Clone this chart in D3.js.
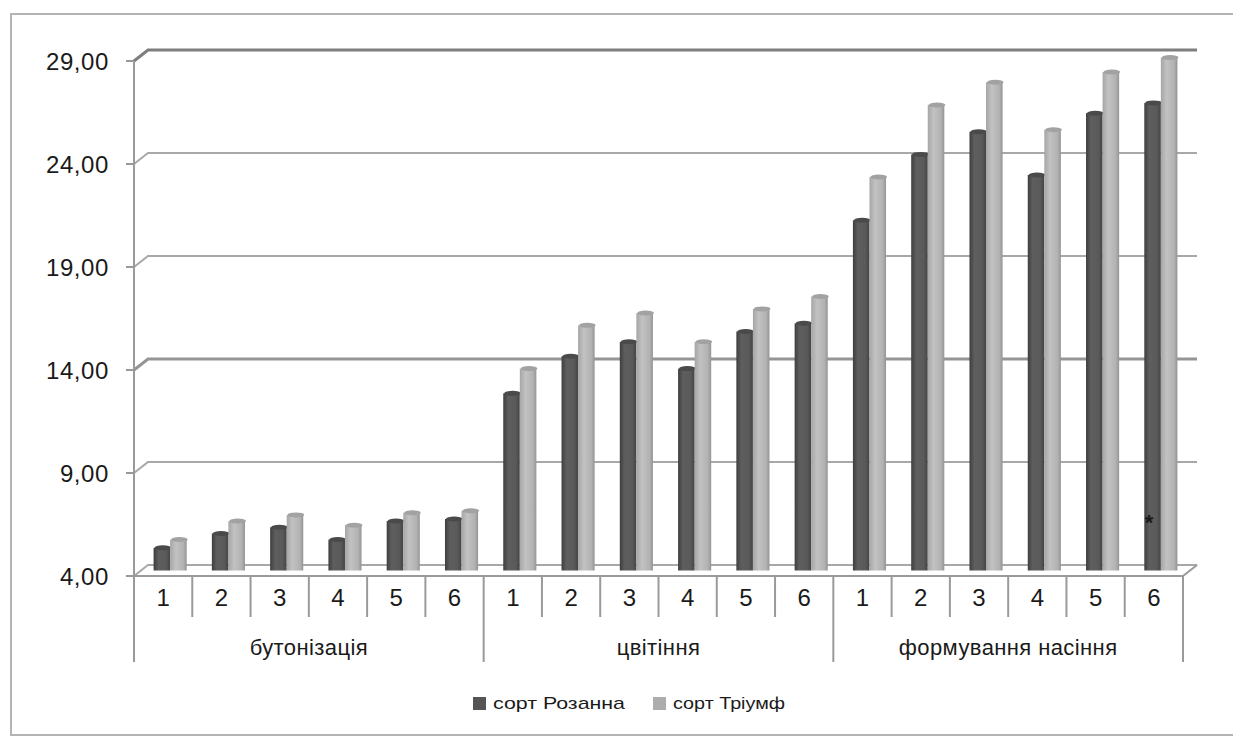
<!DOCTYPE html>
<html>
<head>
<meta charset="utf-8">
<script src="https://cdn.jsdelivr.net/npm/d3@7"></script>
<style>
  body { margin: 0; background: #fff; }
  text { font-family: "Liberation Sans", Arial, sans-serif; fill: #1a1a1a; }
</style>
</head>
<body>
<div id="chart"></div>
<script>
// stages and plant numbers
var stages = ["бутонізація", "цвітіння", "формування насіння"];
var plants = ["1", "2", "3", "4", "5", "6"];
var seriesNames = ["сорт Розанна", "сорт Тріумф"];

// values, 6 per stage
var rozanna = [5.1, 5.8, 6.1, 5.5, 6.4, 6.5,
               12.6, 14.4, 15.1, 13.8, 15.6, 16.0,
               21.0, 24.2, 25.3, 23.2, 26.2, 26.7];
var triumf = [5.5, 6.4, 6.7, 6.2, 6.8, 6.9,
              13.8, 15.9, 16.5, 15.1, 16.7, 17.3,
              23.1, 26.6, 27.7, 25.4, 28.2, 28.9];
var yTicks = [4, 9, 14, 19, 24, 29];

var width = 1233, height = 736;
var depthX = 14, depthY = -11;   // fake 3d wall offset

var svg = d3.select("#chart").append("svg")
    .attr("width", width)
    .attr("height", height);

var defs = svg.append("defs");
function grad(id, stops) {
    var g = defs.append("linearGradient").attr("id", id)
        .attr("x1", "0%").attr("x2", "100%").attr("y1", "0%").attr("y2", "0%");
    stops.forEach(function (s) {
        g.append("stop").attr("offset", s[0]).attr("stop-color", s[1]);
    });
}
grad("gDark", [["0%", "#3e3e3e"], ["30%", "#5e5e5e"], ["75%", "#5a5a5a"], ["100%", "#444"]]);
grad("gLight", [["0%", "#a6a6a6"], ["35%", "#c2c2c2"], ["80%", "#b2b2b2"], ["100%", "#949494"]]);

// outer frame
svg.append("rect")
    .attr("x", 11).attr("y", 14)
    .attr("width", 1240).attr("height", 721)
    .attr("fill", "none")
    .attr("stroke", "#b4b4b4")
    .attr("stroke-width", 2);

var categories = [];
stages.forEach(function (s) {
    plants.forEach(function (p) { categories.push(s + "|" + p); });
});

var y = d3.scaleLinear().domain([4, 29]).range([576, 61]);
var x0 = d3.scaleBand().domain(categories).range([134, 1183]).paddingInner(0);
var x1 = d3.scaleBand().domain(seriesNames)
    .range([0, x0.bandwidth()])
    .paddingInner(0)
    .paddingOuter(0.76);

// gridlines on back wall
var grid = svg.append("g").attr("class", "grid");
yTicks.forEach(function (t) {
    var yy = y(t);
    var strong = (t === 29 || t === 14);
    var col = t === 29 ? "#7e7e7e" : (strong ? "#959595" : "#a8a8a8");
    grid.append("line")
        .attr("x1", 126).attr("x2", 134)
        .attr("y1", yy).attr("y2", yy)
        .attr("stroke", "#999").attr("stroke-width", 2);
    grid.append("path")
        .attr("d", "M134," + yy + "L" + (134 + depthX) + "," + (yy + depthY) + "L1197," + (yy + depthY))
        .attr("fill", "none")
        .attr("stroke", col)
        .attr("stroke-width", strong ? 3 : 2);
});

// y tick labels
svg.append("g").selectAll("text")
    .data(yTicks)
    .join("text")
    .attr("x", 109)
    .attr("y", function (d) { return y(d); })
    .attr("dy", "0.36em")
    .attr("text-anchor", "end")
    .style("font-size", "24px")
    .style("letter-spacing", "0.6px")
    .text(function (d) { return d3.format(".2f")(d).replace(".", ","); });

// bars
var data = categories.map(function (c, i) {
    return { cat: c, vals: [{ s: seriesNames[0], v: rozanna[i] }, { s: seriesNames[1], v: triumf[i] }] };
});
var midShift = depthY / 2;
var barW = x1.bandwidth();

var groups = svg.append("g").attr("class", "bars")
    .selectAll("g")
    .data(data)
    .join("g")
    .attr("transform", function (d) { return "translate(" + (x0(d.cat) + depthX / 2) + ",0)"; });

var bars = groups.selectAll("g")
    .data(function (d) { return d.vals; })
    .join("g");

bars.append("rect")
    .attr("x", function (d) { return x1(d.s); })
    .attr("y", function (d) { return y(d.v) + midShift; })
    .attr("width", barW)
    .attr("height", function (d) { return y(4) - y(d.v); })
    .attr("fill", function (d) { return d.s === seriesNames[0] ? "url(#gDark)" : "url(#gLight)"; });

bars.append("ellipse")
    .attr("cx", function (d) { return x1(d.s) + barW / 2 + 1; })
    .attr("cy", function (d) { return y(d.v) + midShift; })
    .attr("rx", barW / 2)
    .attr("ry", 2.5)
    .attr("fill", function (d) { return d.s === seriesNames[0] ? "#4a4a4a" : "#a2a2a2"; });

// floor / front axis
var axis = svg.append("g").attr("class", "xaxis");
axis.append("path")
    .attr("d", "M134,576L1183,576L1197,565")
    .attr("fill", "none")
    .attr("stroke", "#9a9a9a")
    .attr("stroke-width", 2);
axis.append("line")
    .attr("x1", 134).attr("x2", 134)
    .attr("y1", y(29)).attr("y2", 662)
    .attr("stroke", "#9a9a9a").attr("stroke-width", 2);

var edges = d3.range(categories.length + 1);
axis.selectAll("line.sep")
    .data(edges.slice(1))
    .join("line")
    .attr("class", "sep")
    .attr("x1", function (i) { return 134 + i * x0.step(); })
    .attr("x2", function (i) { return 134 + i * x0.step(); })
    .attr("y1", 576)
    .attr("y2", function (i) { return i % 6 === 0 ? 662 : 617; })
    .attr("stroke", "#9a9a9a").attr("stroke-width", 2);

axis.selectAll("text.plant")
    .data(categories)
    .join("text")
    .attr("class", "plant")
    .attr("x", function (d) { return x0(d) + x0.bandwidth() / 2; })
    .attr("y", 606)
    .attr("text-anchor", "middle")
    .style("font-size", "24px")
    .text(function (d) { return d.split("|")[1]; });

axis.selectAll("text.stage")
    .data(stages)
    .join("text")
    .attr("class", "stage")
    .attr("x", function (s) {
        return (x0(s + "|1") + x0(s + "|6") + x0.bandwidth()) / 2;
    })
    .attr("y", 655)
    .attr("text-anchor", "middle")
    .style("font-size", "22px")
    .style("letter-spacing", "0.4px")
    .text(function (d) { return d; });

// scan mark on last bar
svg.append("text")
    .attr("x", 1149).attr("y", 530)
    .attr("text-anchor", "middle")
    .style("font-size", "22px")
    .style("font-weight", "bold")
    .text("*");

// legend
var legend = svg.append("g").attr("class", "legend");
var legendX = [473, 653];
var legendColors = ["#555", "#adadad"];
seriesNames.forEach(function (s, i) {
    legend.append("rect")
        .attr("x", legendX[i]).attr("y", 697)
        .attr("width", 13).attr("height", 13)
        .attr("fill", legendColors[i]);
    legend.append("text")
        .attr("x", legendX[i] + 20)
        .attr("y", 709)
        .style("font-size", "17px")
        .attr("textLength", i === 0 ? 132 : 112)
        .attr("lengthAdjust", "spacingAndGlyphs")
        .text(s);
});
</script>
</body>
</html>
